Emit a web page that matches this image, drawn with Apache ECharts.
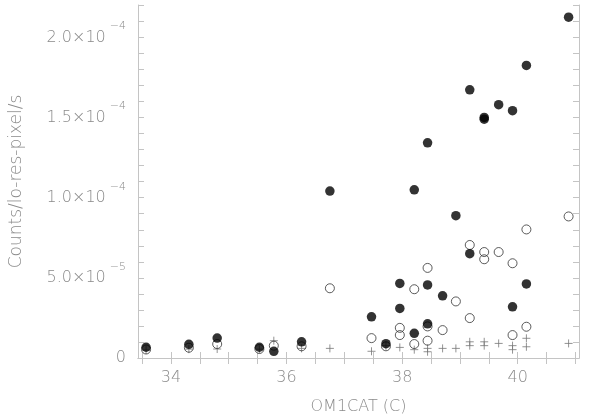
<!DOCTYPE html>
<html>
<head>
<meta charset="utf-8">
<script src="https://cdn.jsdelivr.net/npm/echarts@6/dist/echarts.min.js"></script>
<style>html,body{margin:0;padding:0;background:#fff}#c{width:606px;height:420px}</style>
</head>
<body>
<div id="c"></div>
<script>
// y values in units of 1e-5 counts/lo-res-pixel/s
const filledX = [33.57, 34.31, 34.80, 35.53, 35.78, 36.26, 36.75, 37.47, 37.72, 37.96, 37.96, 38.21, 38.21, 38.44, 38.44, 38.44, 38.70, 38.93, 39.17, 39.17, 39.42, 39.42, 39.67, 39.91, 39.91, 40.15, 40.15, 40.88];
const filledY = [0.67, 0.85, 1.24, 0.67, 0.42, 1.01, 10.41, 2.57, 0.89, 4.65, 3.09, 10.49, 1.54, 13.42, 4.56, 2.13, 3.88, 8.88, 16.73, 6.51, 15.01, 14.90, 15.80, 15.43, 3.19, 18.25, 4.62, 21.26];
const openX = [33.57, 34.31, 34.80, 35.53, 35.78, 36.26, 36.75, 37.47, 37.72, 37.96, 37.96, 38.21, 38.21, 38.44, 38.44, 38.44, 38.70, 38.93, 39.17, 39.17, 39.42, 39.42, 39.67, 39.91, 39.91, 40.15, 40.15, 40.88];
const openY = [0.53, 0.64, 0.87, 0.56, 0.77, 0.73, 4.35, 1.24, 0.73, 1.88, 1.43, 4.29, 0.87, 5.62, 1.97, 1.08, 1.74, 3.53, 7.05, 2.49, 6.61, 6.16, 6.61, 5.91, 1.43, 8.02, 1.95, 8.83];
const plusX = [33.57, 34.31, 34.80, 35.53, 35.78, 36.26, 36.75, 37.47, 37.72, 37.96, 38.21, 38.44, 38.44, 38.70, 38.93, 39.17, 39.17, 39.42, 39.42, 39.67, 39.91, 39.91, 40.15, 40.15, 40.88];
const plusY = [0.50, 0.55, 0.56, 0.55, 1.08, 0.60, 0.60, 0.42, 0.77, 0.66, 0.52, 0.60, 0.39, 0.60, 0.60, 1.01, 0.77, 1.01, 0.77, 0.91, 0.77, 0.52, 1.23, 0.70, 0.91];
const xTicks = [33.5, 34, 34.5, 35, 35.5, 36, 36.5, 37, 37.5, 38, 38.5, 39, 39.5, 40, 40.5, 41];
const xLabels = [34, 36, 38, 40];
const yTicks = [0,1,2,3,4,5,6,7,8,9,10,11,12,13,14,15,16,17,18,19,20,21,22];
const yLabels = [0, 5, 10, 15, 20];

const zip = (a, b) => a.map((v, i) => [v, b[i]]);
const AX = '#c4c4c4', TX = '#8a8a8a', FF = 'DejaVu Sans';
const X0 = 33.43, X1 = 41.06, Y1 = 22.02;

function yFmt(v) {
  if (v === 0) return '{m|0}';
  const exp = v >= 10 ? 4 : 5;
  const man = v >= 10 ? v / 10 : v;
  return '{m|' + man.toFixed(1) + '×10}{e|−' + exp + '}';
}
const rich = {
  m: {fontFamily: FF, fontSize: 16, color: TX, fontWeight: 200},
  e: {fontFamily: FF, fontSize: 11, color: TX, fontWeight: 200, padding: [0, 0, 22, 4]}
};
const tickStyle = {inside: true, length: 6, lineStyle: {color: AX, width: 1}};

const chart = echarts.init(document.getElementById('c'));
chart.setOption({
  animation: false,
  backgroundColor: '#fff',
  grid: {left: 132, right: 27, top: 5, bottom: 61},
  xAxis: [{
    type: 'value', min: X0, max: X1, position: 'bottom',
    name: 'OM1CAT (C)', nameLocation: 'middle', nameGap: 41,
    nameTextStyle: {fontFamily: FF, fontSize: 16, color: TX, fontWeight: 200},
    axisLine: {show: true, lineStyle: {color: AX}},
    axisTick: Object.assign({customValues: xTicks}, tickStyle),
    axisLabel: {customValues: xLabels, margin: 12, fontFamily: FF, fontSize: 16, color: TX, fontWeight: 200, formatter: v => String(v)},
    splitLine: {show: false}
  }, {
    type: 'value', min: X0, max: X1, position: 'top',
    axisLine: {show: true, lineStyle: {color: AX}},
    axisTick: Object.assign({customValues: xTicks}, tickStyle),
    axisLabel: {show: false}, splitLine: {show: false}
  }],
  yAxis: [{
    type: 'value', min: 0, max: Y1, position: 'left',
    name: 'Counts/lo-res-pixel/s', nameLocation: 'middle', nameGap: 113, nameRotate: 90,
    nameTextStyle: {fontFamily: FF, fontSize: 17, color: TX, fontWeight: 200},
    axisLine: {show: true, lineStyle: {color: AX}},
    axisTick: Object.assign({customValues: yTicks}, tickStyle),
    axisLabel: {customValues: yLabels, margin: 12, formatter: yFmt, rich: rich},
    splitLine: {show: false}
  }, {
    type: 'value', min: 0, max: Y1, position: 'right',
    axisLine: {show: true, lineStyle: {color: AX}},
    axisTick: Object.assign({customValues: yTicks}, tickStyle),
    axisLabel: {show: false}, splitLine: {show: false}
  }],
  series: [{
    type: 'scatter', name: 'plus', data: zip(plusX, plusY),
    symbol: 'path://M0,-1L0,1M-1,0L1,0', symbolSize: 8,
    itemStyle: {color: 'none', borderColor: '#777', borderWidth: 1}
  }, {
    type: 'scatter', name: 'open', data: zip(openX, openY),
    symbol: 'circle', symbolSize: 9,
    itemStyle: {color: 'rgba(255,255,255,0)', borderColor: '#333', borderWidth: 1}
  }, {
    type: 'scatter', name: 'filled', data: zip(filledX, filledY),
    symbol: 'circle', symbolSize: 9.5,
    itemStyle: {color: '#000'}
  }]
});
</script>
</body>
</html>
